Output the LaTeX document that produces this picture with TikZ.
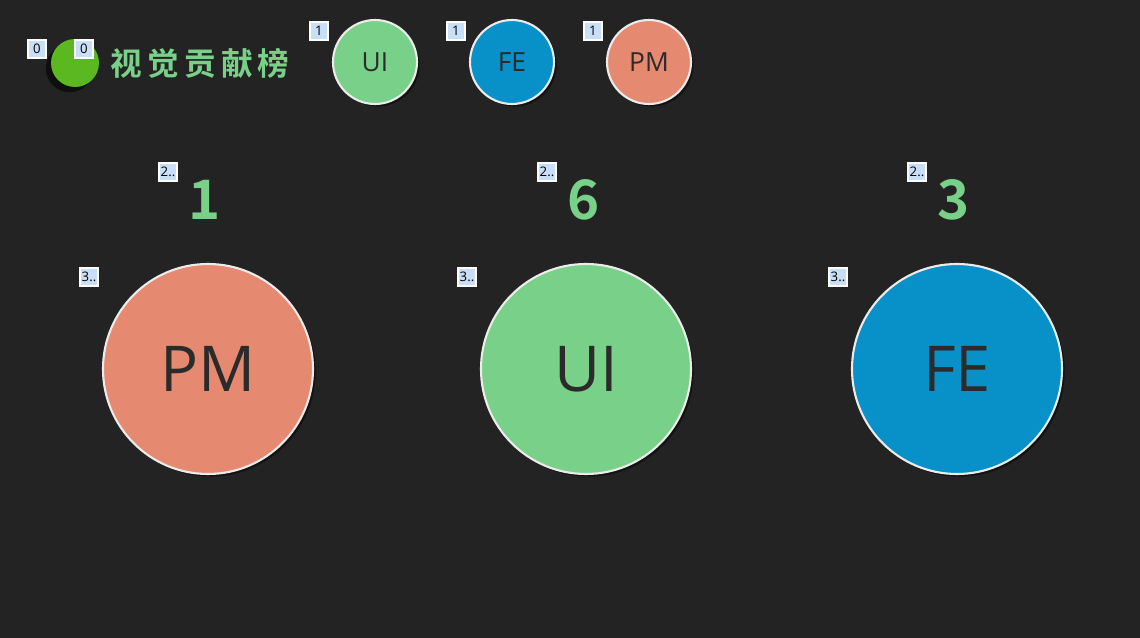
\documentclass[tikz,border=0pt]{standalone}
\usepackage{fontspec}
\setmainfont{Open Sans}
\newfontfamily\cjk{Noto Sans CJK SC}
\newfontfamily\cjkbold{Noto Sans CJK SC Bold}
\usepackage{tikz}
\usetikzlibrary{shadows}

\definecolor{bgdark}{HTML}{232323}
\definecolor{uigreen}{HTML}{79D089}
\definecolor{feblue}{HTML}{0791C8}
\definecolor{pmred}{HTML}{E58A70}
\definecolor{logogreen}{HTML}{5CB821}
\definecolor{txtdark}{HTML}{2B2B2B}
\definecolor{tagblue}{HTML}{C9DFF7}

\begin{document}
\begin{tikzpicture}[x=0.02cm, y=-0.02cm,
	bubble/.style = {draw = white!92!black, line width = 1.2pt, shape = circle, inner sep = 0pt,
		text = txtdark, drop shadow = {shadow xshift = 1.5pt, shadow yshift = -1.5pt, fill = black, opacity = 0.45}},
	small/.style = {bubble, minimum size = 84*0.02cm, font = \fontsize{15}{15}\selectfont},
	big/.style = {bubble, minimum size = 210*0.02cm, font = \fontsize{36}{36}\selectfont},
	tag/.style = {draw = white, line width = 0.6pt, fill = tagblue, inner sep = 0pt,
		minimum size = 18*0.02cm, text = black, font = \fontsize{7.5}{7.5}\selectfont},
	score/.style = {text = uigreen, font = \cjkbold\fontsize{31}{31}\selectfont}]

	\fill[bgdark] (0, 0) rectangle (1140, 638);

	% header
	\node[shape = circle, fill = logogreen, minimum size = 48*0.02cm,
		drop shadow = {shadow xshift = -3pt, shadow yshift = -3pt, fill = black, opacity = 0.55}] (logo) at (75, 63) {};
	\node[text = uigreen, font = \cjkbold\fontsize{18}{18}\selectfont] (title) at (200, 63) {视\hspace{3pt}觉\hspace{3pt}贡\hspace{3pt}献\hspace{3pt}榜};
	\node[tag] (t0a) at (37, 49) {0};
	\node[tag] (t0b) at (84, 49) {0};

	\node[small, fill = uigreen] (sui) at (375, 62) {UI};
	\node[small, fill = feblue] (sfe) at (512, 62) {FE};
	\node[small, fill = pmred] (spm) at (649, 62) {PM};
	\node[tag] (t1a) at (319, 31) {1};
	\node[tag] (t1b) at (456, 31) {1};
	\node[tag] (t1c) at (593, 31) {1};

	% scores
	\node[score] (n1) at (205, 200) {1};
	\node[score] (n2) at (584, 200) {6};
	\node[score] (n3) at (954, 200) {3};
	\node[tag] (t2a) at (168, 172) {2..};
	\node[tag] (t2b) at (547, 172) {2..};
	\node[tag] (t2c) at (917, 172) {2..};

	% big bubbles
	\node[big, fill = pmred] (bpm) at (208, 369) {PM};
	\node[big, fill = uigreen] (bui) at (586, 369) {UI};
	\node[big, fill = feblue] (bfe) at (957, 369) {FE};
	\node[tag] (t3a) at (89, 277) {3..};
	\node[tag] (t3b) at (467, 277) {3..};
	\node[tag] (t3c) at (838, 277) {3..};

	\end{tikzpicture}
\end{document}
